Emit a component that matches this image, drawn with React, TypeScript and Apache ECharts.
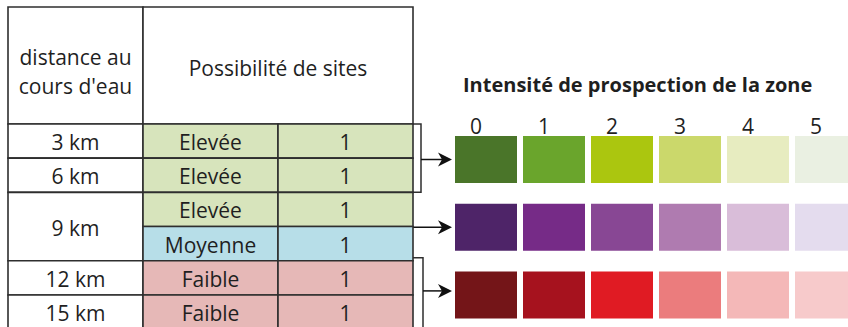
import React, { useEffect, useRef } from 'react';
import * as echarts from 'echarts';

// ---------- data ----------
const headerDistance = "distance au\ncours d'eau";
const headerPossibilite = 'Possibilité de sites';
const distances = ['3 km', '6 km', '9 km', '12 km', '15 km'];
const distanceSpans = [1, 1, 2, 1, 1];
const possibilites = ['Elevée', 'Elevée', 'Elevée', 'Moyenne', 'Faible', 'Faible'];
const sites = [1, 1, 1, 1, 1, 1];

const legendTitle = 'Intensité de prospection de la zone';
const intensityLevels = ['0', '1', '2', '3', '4', '5'];
const paletteNames = ['vert', 'violet', 'rouge'];
const greens = ['#4a7529', '#6aa52c', '#abc60f', '#cbd86b', '#e7ecc0', '#eaf0e2'];
const purples = ['#4e2468', '#762b87', '#884794', '#af7bb0', '#d9bdd9', '#e4dcee'];
const reds = ['#741518', '#a6121e', '#e01b23', '#eb7c7d', '#f4b8b8', '#f7cacb'];
const palettes = [greens, purples, reds];

// which table rows lead to which palette row
const arrowGroups = [
  { fromRow: 0, toRow: 2, palette: 0, bracket: true },
  { fromRow: 2, toRow: 4, palette: 1, bracket: false },
  { fromRow: 4, toRow: 6, palette: 2, bracket: true },
];

// ---------- styles / layout ----------
const levelFills: Record<string, string> = {
  'Elevée': '#d7e4bc',
  'Moyenne': '#b7dee8',
  'Faible': '#e6b8b7',
};
const FONT = 'Open Sans';
const LINE = '#2e2e2e';
const TEXT = '#1f1f1f';

const T_LEFT = 8;
const T_TOP = 7;
const COL_W = 135;
const ROW_H = 34.2;
const HEADER_ROWS = 3.42;
const N_ROWS = possibilites.length;

const S_LEFT = 452;
const S_BAND_W = 68;
const S_BAND_H = 67.7;
const S_TOP = 125.65;
const SW_W = 62;
const SW_H = 47;

type Cell = { c: number; cs: number; r: number; rs: number; text: string; fill: string; dy: number };

function buildCells(): Cell[] {
  const cells: Cell[] = [];
  cells.push({ c: 0, cs: 1, r: -HEADER_ROWS, rs: HEADER_ROWS, text: headerDistance, fill: '#ffffff', dy: 6 });
  cells.push({ c: 1, cs: 2, r: -HEADER_ROWS, rs: HEADER_ROWS, text: headerPossibilite, fill: '#ffffff', dy: 3 });
  let r = 0;
  distances.forEach((d, i) => {
    cells.push({ c: 0, cs: 1, r, rs: distanceSpans[i], text: d, fill: '#ffffff', dy: 1 });
    r += distanceSpans[i];
  });
  possibilites.forEach((p, i) => {
    cells.push({ c: 1, cs: 1, r: i, rs: 1, text: p, fill: levelFills[p], dy: 1 });
  });
  sites.forEach((s, i) => {
    cells.push({ c: 2, cs: 1, r: i, rs: 1, text: String(s), fill: levelFills[possibilites[i]], dy: 1 });
  });
  return cells;
}

export default function App() {
  const ref = useRef<HTMLDivElement>(null);

  useEffect(() => {
    if (!ref.current) return;
    const chart = echarts.init(ref.current, null, { renderer: 'svg' });
    const cells = buildCells();

    const tableRight = T_LEFT + 3 * COL_W;
    const rowY = (r: number) => T_TOP + (r + HEADER_ROWS) * ROW_H;
    const swatchCenterY = (j: number) => S_TOP + (j + 0.5) * S_BAND_H;
    const arrowTipX = S_LEFT + (S_BAND_W - SW_W) / 2 - 3;

    const graphics: any[] = [];
    arrowGroups.forEach((g, k) => {
      const bx = tableRight + (g.bracket ? (k === 0 ? 8 : 10) : 0);
      const ay = swatchCenterY(g.palette) - (k === 2 ? 4 : 0);
      if (g.bracket) {
        const y0 = rowY(g.fromRow) - (k === 2 ? 3 : 0);
        const y1 = k === 2 ? rowY(g.toRow) + 5 : rowY(g.toRow);
        graphics.push({
          type: 'polyline',
          shape: { points: [[tableRight, y0], [bx, y0], [bx, y1], [tableRight, y1]] },
          style: { stroke: LINE, lineWidth: 1.5, fill: 'none' },
          silent: true,
        });
      }
      graphics.push({
        type: 'line',
        shape: { x1: bx, y1: ay, x2: arrowTipX - 6, y2: ay },
        style: { stroke: '#111', lineWidth: 1.5 },
        silent: true,
      });
      graphics.push({
        type: 'polygon',
        shape: {
          points: [
            [arrowTipX, ay],
            [arrowTipX - 14, ay - 7],
            [arrowTipX - 10, ay],
            [arrowTipX - 14, ay + 7],
          ],
        },
        style: { fill: '#111' },
        silent: true,
      });
    });

    const swatchData: any[] = [];
    palettes.forEach((pal, j) => {
      pal.forEach((col, i) => {
        swatchData.push({ value: [i, j], itemStyle: { color: col, opacity: 1 } });
      });
    });

    chart.setOption({
      animation: false,
      backgroundColor: '#ffffff',
      title: {
        text: legendTitle,
        left: 463,
        top: 74,
        padding: 0,
        textStyle: { fontSize: 20, fontWeight: 'bold', fontFamily: FONT, color: TEXT },
      },
      grid: [
        {
          left: T_LEFT,
          top: T_TOP,
          width: 3 * COL_W,
          height: (HEADER_ROWS + N_ROWS) * ROW_H,
          containLabel: false,
          outerBoundsMode: 'none',
        },
        {
          left: S_LEFT,
          top: S_TOP,
          width: S_BAND_W * intensityLevels.length,
          height: S_BAND_H * paletteNames.length,
          containLabel: false,
          outerBoundsMode: 'none',
        },
      ],
      xAxis: [
        { type: 'value', gridIndex: 0, min: 0, max: 3, show: false },
        {
          type: 'category',
          gridIndex: 1,
          data: intensityLevels,
          position: 'top',
          axisLine: { show: false },
          axisTick: { show: false },
          splitLine: { show: false },
          axisLabel: {
            fontSize: 21,
            fontFamily: FONT,
            color: TEXT,
            margin: 0,
            verticalAlign: 'middle',
            padding: [0, 20, 0, 0],
          },
        },
      ],
      yAxis: [
        { type: 'value', gridIndex: 0, min: -HEADER_ROWS, max: N_ROWS, inverse: true, show: false },
        { type: 'category', gridIndex: 1, data: paletteNames, inverse: true, show: false },
      ],
      series: [
        {
          type: 'custom',
          xAxisIndex: 0,
          yAxisIndex: 0,
          clip: false,
          silent: true,
          data: cells.map((c) => [c.c, c.r]),
          renderItem: (params: any, api: any) => {
            const cell = cells[params.dataIndex];
            const p0 = api.coord([cell.c, cell.r]);
            const p1 = api.coord([cell.c + cell.cs, cell.r + cell.rs]);
            const x = Math.min(p0[0], p1[0]);
            const y = Math.min(p0[1], p1[1]);
            const w = Math.abs(p1[0] - p0[0]);
            const h = Math.abs(p1[1] - p0[1]);
            return {
              type: 'group',
              children: [
                {
                  type: 'rect',
                  shape: { x, y, width: w, height: h },
                  style: { fill: cell.fill, stroke: LINE, lineWidth: 1.6 },
                },
                {
                  type: 'text',
                  x: x + w / 2,
                  y: y + h / 2 + cell.dy,
                  style: {
                    text: cell.text,
                    align: 'center',
                    verticalAlign: 'middle',
                    fontSize: 21,
                    lineHeight: 29,
                    fontFamily: FONT,
                    fill: TEXT,
                  },
                },
              ],
            };
          },
        },
        {
          type: 'scatter',
          xAxisIndex: 1,
          yAxisIndex: 1,
          symbol: 'rect',
          symbolSize: [SW_W, SW_H],
          silent: true,
          clip: false,
          itemStyle: { opacity: 1 },
          data: swatchData,
        },
      ],
      graphic: graphics,
    });

    return () => chart.dispose();
  }, []);

  return (
    <div
      ref={ref}
      style={{ position: 'absolute', left: 0, top: 0, width: 848, height: 327 }}
    />
  );
}
